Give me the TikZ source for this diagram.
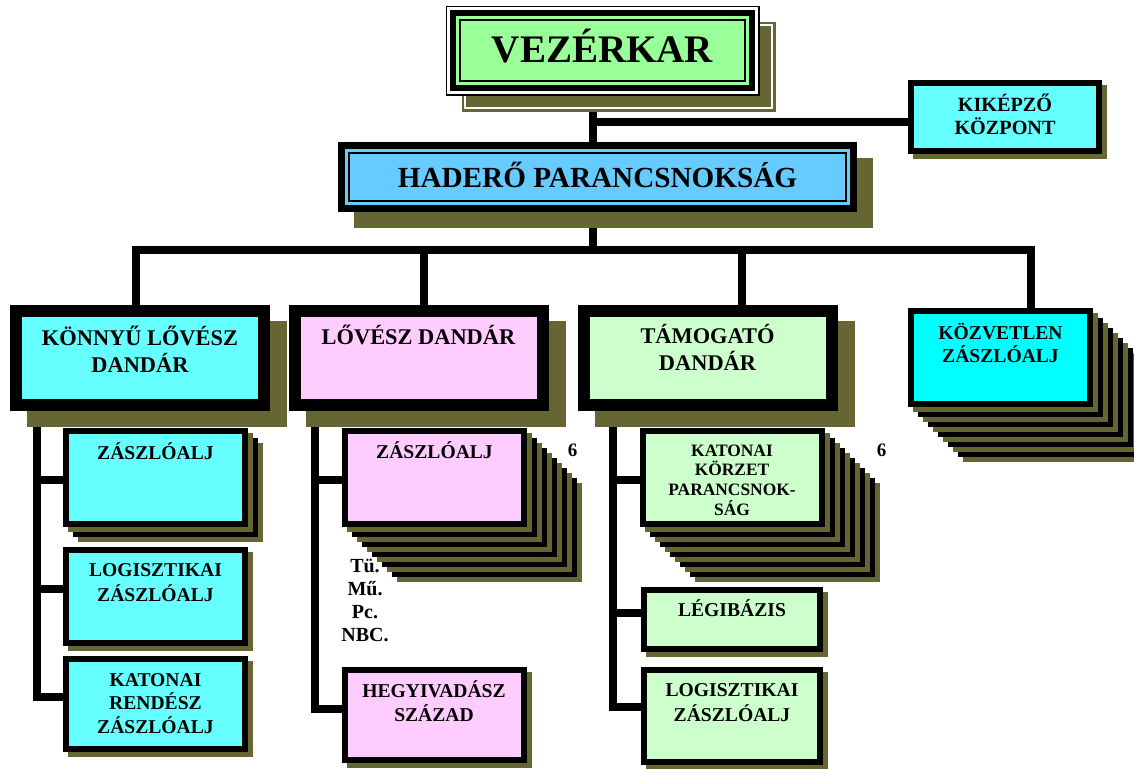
\documentclass[tikz,border=0pt]{standalone}
\usepackage{fontspec}
\setmainfont{Liberation Serif}
\usetikzlibrary{shadows,backgrounds}
\definecolor{olivesh}{RGB}{102,102,51}
\definecolor{chiefgreen}{RGB}{153,255,153}
\definecolor{hqblue}{RGB}{102,204,255}
\definecolor{cyanlt}{RGB}{102,255,255}
\definecolor{pinklt}{RGB}{255,204,255}
\definecolor{greenlt}{RGB}{204,255,204}
\definecolor{cyanfull}{RGB}{0,255,255}
\tikzset{
  wire/.style = {line width=4pt},
  txt/.style 2 args = {align=center, inner sep=0pt,
    font=\bfseries\fontsize{#1}{#2}\selectfont},
  chief/.style = {draw=black, fill=chiefgreen, line width=1pt, inner sep=0pt,
    minimum width=142.5pt, minimum height=30.5pt,
    general shadow={fill=olivesh, draw=olivesh, line width=14.5pt,
      shadow xshift=8pt, shadow yshift=-8pt},
    general shadow={draw=white, line width=12pt,
      shadow xshift=8pt, shadow yshift=-8pt},
    general shadow={fill=olivesh, draw=olivesh, line width=10pt,
      shadow xshift=8pt, shadow yshift=-8pt},
    preaction={draw=black, line width=14.5pt},
    preaction={draw=white, line width=13pt},
    preaction={draw=black, line width=10pt},
    preaction={draw=chiefgreen, line width=4pt}},% vezérkar
  hq/.style = {draw=black, fill=hqblue, line width=1pt, inner sep=0pt,
    minimum width=248.5pt, minimum height=24pt,
    general shadow={fill=olivesh, draw=olivesh, line width=11pt,
      shadow xshift=8pt, shadow yshift=-8pt},
    preaction={draw=black, line width=11pt},
    preaction={draw=hqblue, line width=4pt}},% parancsnokság
  brig/.style = {draw=black, fill=#1, line width=6pt, inner sep=0pt,
    minimum width=124pt, minimum height=47pt,
    general shadow={fill=olivesh, draw=olivesh, line width=6pt,
      shadow xshift=8.5pt, shadow yshift=-8pt}},% dandár
  batt/.style = {draw=black, fill=#1, line width=3pt, inner sep=0pt,
    minimum width=89.5pt, minimum height=46.5pt,
    general shadow={fill=olivesh, draw=olivesh, line width=3pt,
      shadow xshift=2.5pt, shadow yshift=-2.5pt}},% zászlóalj
  sheet/.style 2 args = {
    general shadow={fill=olivesh, draw=olivesh, line width=3pt,
      shadow xshift=#2, shadow yshift=-#2},
    general shadow={fill=black, draw=black, line width=3pt,
      shadow xshift=#1, shadow yshift=-#1}},% egy lap a köteg mögött
  deck/.style = {sheet={25pt}{27.5pt}, sheet={20pt}{22.5pt},
    sheet={15pt}{17.5pt}, sheet={10pt}{12.5pt}, sheet={5pt}{7.5pt}}
}
\begin{document}
\begin{tikzpicture}[x=0.5pt, y=-0.5pt]
\useasboundingbox (0,0) rectangle (1134,768);
% vezetés
\node[chief] (vk) at (602.5,50.5) {};
\node[txt={19.5pt}{23pt}] (vk-t) at ([yshift=2pt]vk.center) {VEZÉRKAR};
\node[batt=cyanlt, minimum width=94pt, minimum height=34pt] (kk) at (1005,117) {};
\node[txt={10.1pt}{11.5pt}] (kk-t) at ([yshift=-17.25pt]kk.north) {KIKÉPZŐ\\KÖZPONT};
\node[hq] (hp) at (597.5,177) {};
\node[txt={14.6pt}{17pt}] (hp-t) at ([yshift=1pt]hp.center) {HADERŐ PARANCSNOKSÁG};
% dandárok
\node[brig=cyanlt] (kl) at (140,358) {};
\node[txt={11.2pt}{13.5pt}] (kl-t) at ([yshift=-22pt]kl.north) {KÖNNYŰ LŐVÉSZ\\DANDÁR};
\node[brig=pinklt] (lv) at (418.5,357.5) {};
\node[txt={11.2pt}{13.5pt}] (lv-t) at ([yshift=-15.25pt]lv.north) {LŐVÉSZ DANDÁR};
\node[brig=greenlt] (tm) at (707.5,358) {};
\node[txt={11.2pt}{13.5pt}] (tm-t) at ([yshift=-21pt]tm.north) {TÁMOGATÓ\\DANDÁR};
\node[deck, batt=cyanfull] (kz) at (1000.5,357.5) {};
\node[txt={9.8pt}{11.5pt}] (kz-t) at ([yshift=-17.5pt]kz.north) {KÖZVETLEN\\ZÁSZLÓALJ};
% könnyű lövész dandár alárendeltjei
\node[sheet={5pt}{7.5pt}, batt=cyanlt] (kl-z1) at (155.5,477.5) {};
\node[txt={9.8pt}{12pt}] (kl-z1-t) at ([yshift=-11.5pt]kl-z1.north) {ZÁSZLÓALJ};
\node[batt=cyanlt] (kl-z2) at (155.5,596.5) {};
\node[txt={9.8pt}{12.5pt}] (kl-z2-t) at ([yshift=-17.75pt]kl-z2.north) {LOGISZTIKAI\\ZÁSZLÓALJ};
\node[batt=cyanlt, minimum height=45pt] (kl-z3) at (155.5,704) {};
\node[txt={9.8pt}{11.75pt}] (kl-z3-t) at ([yshift=-23.75pt]kl-z3.north) {KATONAI\\RENDÉSZ\\ZÁSZLÓALJ};
% lövész dandár alárendeltjei
\node[deck, batt=pinklt] (lv-z1) at (434.5,477.5) {};
\node[txt={9.8pt}{12pt}] (lv-z1-t) at ([yshift=-11pt]lv-z1.north) {ZÁSZLÓALJ};
\node[txt={9.5pt}{11pt}] (lv-n) at (572.5,450) {6};
\node[txt={10pt}{11.5pt}] (lv-fegy) at (365,600) {Tü.\\Mű.\\Pc.\\NBC.};
\node[batt=pinklt, minimum height=45pt] (lv-z2) at (434,715) {};
\node[txt={9.8pt}{12pt}] (lv-z2-t) at ([yshift=-17.25pt]lv-z2.north) {HEGYIVADÁSZ\\SZÁZAD};
% támogató dandár alárendeltjei
\node[deck, batt=greenlt] (tm-z1) at (732,477.5) {};
\node[txt={8.7pt}{9.85pt}] (tm-z1-t) at ([yshift=-26pt]tm-z1.north) {KATONAI\\KÖRZET\\PARANCSNOK-\\SÁG};
\node[txt={9.5pt}{11pt}] (tm-n) at (881.5,450) {6};
\node[batt=greenlt, minimum width=88pt, minimum height=29.5pt] (tm-z2) at (732,619.5) {};
\node[txt={9.8pt}{12pt}] (tm-z2-t) at ([yshift=-10.75pt]tm-z2.north) {LÉGIBÁZIS};
\node[batt=greenlt, minimum width=88pt, minimum height=46pt] (tm-z3) at (732,716) {};
\node[txt={9.8pt}{12.5pt}] (tm-z3-t) at ([yshift=-17.75pt]tm-z3.north) {LOGISZTIKAI\\ZÁSZLÓALJ};
% összekötők
\begin{scope}[on background layer]
\coordinate (j1) at (593,122);
\coordinate (b0) at (593,250);
\coordinate (b1) at (136,250);
\coordinate (b2) at (424,250);
\coordinate (b3) at (742,250);
\coordinate (b4) at (1031,250);
\draw[wire] (vk.south -| b0) -- (hp.north -| b0);
\draw[wire] (j1) -- (j1 -| kk.west);
\draw[wire] (hp.south -| b0) -- (b0);
\draw[wire] (kl.north -| b1) -- (b1) -- (b4) -- (kz.north -| b4);
\draw[wire] (b2) -- (lv.north -| b2);
\draw[wire] (b3) -- (tm.north -| b3);
\coordinate (k1) at (37,480);
\coordinate (k2) at (37,589);
\coordinate (k3) at (37,697);
\draw[wire] (kl.south -| k1) -- (k3) -- (k3 -| kl-z3.west);
\draw[wire] (k1) -- (k1 -| kl-z1.west);
\draw[wire] (k2) -- (k2 -| kl-z2.west);
\coordinate (l1) at (315,480);
\coordinate (l2) at (315,709);
\draw[wire] (lv.south -| l1) -- (l2) -- (l2 -| lv-z2.west);
\draw[wire] (l1) -- (l1 -| lv-z1.west);
\coordinate (t1) at (613,480);
\coordinate (t2) at (613,613);
\coordinate (t3) at (613,707);
\draw[wire] (tm.south -| t1) -- (t3) -- (t3 -| tm-z3.west);
\draw[wire] (t1) -- (t1 -| tm-z1.west);
\draw[wire] (t2) -- (t2 -| tm-z2.west);
\end{scope}
\end{tikzpicture}
\end{document}
